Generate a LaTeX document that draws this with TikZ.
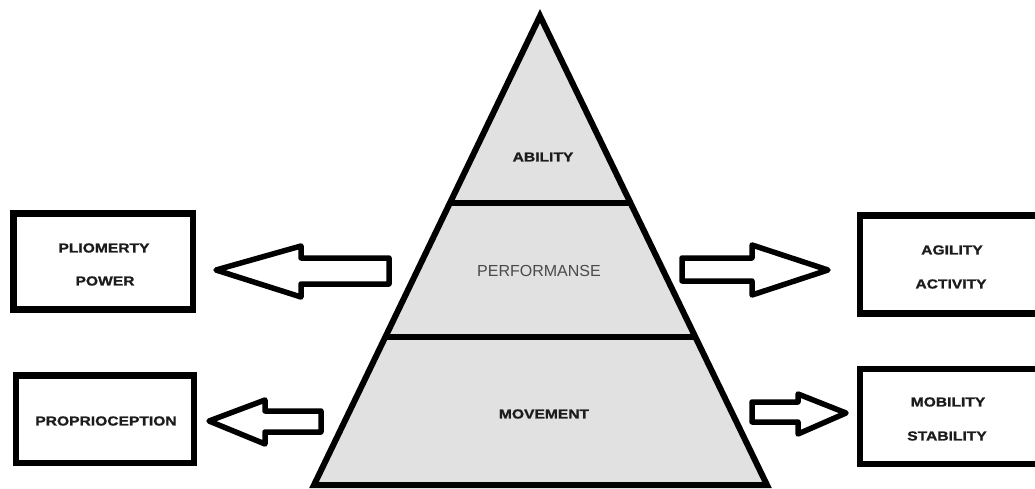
\documentclass[tikz,border=0pt]{standalone}
\usepackage{fontspec}
\setmainfont{Liberation Sans}
\newfontfamily\wb[FakeStretch=1.2,FakeBold=1.2]{Liberation Sans}
\definecolor{pyrfill}{HTML}{E1E1E1}
\definecolor{txtdark}{HTML}{1C1C1C}
\definecolor{txtgray}{HTML}{4A4A4A}
\begin{document}
\begin{tikzpicture}[x=1pt,y=-1pt,
  boxst/.style={draw=black,line width=6.5pt,fill=white,rectangle,inner sep=0pt},
  lbl/.style={inner sep=0pt,text=txtdark,font=\wb\bfseries\fontsize{13}{15}\selectfont},
  plbl/.style={inner sep=0pt,text=txtgray,font=\fontsize{16}{18}\selectfont},
  blockarrow/.style={draw=black,line width=5.5pt,fill=white,line join=round},
  pyr/.style={draw=black,line width=6pt,fill=pyrfill,line join=miter}]
\useasboundingbox (0,0) rectangle (1035,489);
% pyramid
\coordinate (apex) at (540,16);
\coordinate (bl) at (314,485);
\coordinate (br) at (767,485);
\filldraw[pyr] (apex) -- (br) -- (bl) -- cycle;
\coordinate (d1l) at (448,203.3);
\coordinate (d1r) at (632,203.3);
\coordinate (d2l) at (384,337);
\coordinate (d2r) at (696,337);
\draw[line width=6pt] (d1l) -- (d1r);
\draw[line width=6pt] (d2l) -- (d2r);
\node[lbl] (ability) at (543,157) {ABILITY};
\node[plbl] (perf) at (539,271) {PERFORMANSE};
\node[lbl] (movement) at (544,414) {MOVEMENT};
% boxes
\node[boxst,minimum width=179.5pt,minimum height=96pt] (b1) at (103.25,261.5) {};
\node[boxst,minimum width=178pt,minimum height=87.5pt] (b2) at (105,419.25) {};
\node[boxst,minimum width=178pt,minimum height=98pt] (b3) at (949,264.5) {};
\node[boxst,minimum width=178pt,minimum height=95pt] (b4) at (949,416.5) {};
\node[lbl] (t1a) at (104,248) {PLIOMERTY};
\node[lbl] (t1b) at (105,281) {POWER};
\node[lbl] (t2) at (106,421) {PROPRIOCEPTION};
\node[lbl] (t3a) at (952,250) {AGILITY};
\node[lbl] (t3b) at (951,284) {ACTIVITY};
\node[lbl] (t4a) at (948,402) {MOBILITY};
\node[lbl] (t4b) at (947,436) {STABILITY};
% block arrows
\draw[blockarrow] (216,270) -- (301,246) -- (301,258) -- (389,258) -- (389,284) -- (301,284) -- (301,297) -- cycle;
\draw[blockarrow] (209,421) -- (265,400) -- (265,411) -- (321,411) -- (321,432) -- (265,432) -- (265,444) -- cycle;
\draw[blockarrow] (828,270) -- (752,245) -- (752,258) -- (682,258) -- (682,281) -- (752,281) -- (752,295) -- cycle;
\draw[blockarrow] (846,413) -- (798,394) -- (798,402) -- (752,402) -- (752,422) -- (798,422) -- (798,434) -- cycle;
\end{tikzpicture}
\end{document}
